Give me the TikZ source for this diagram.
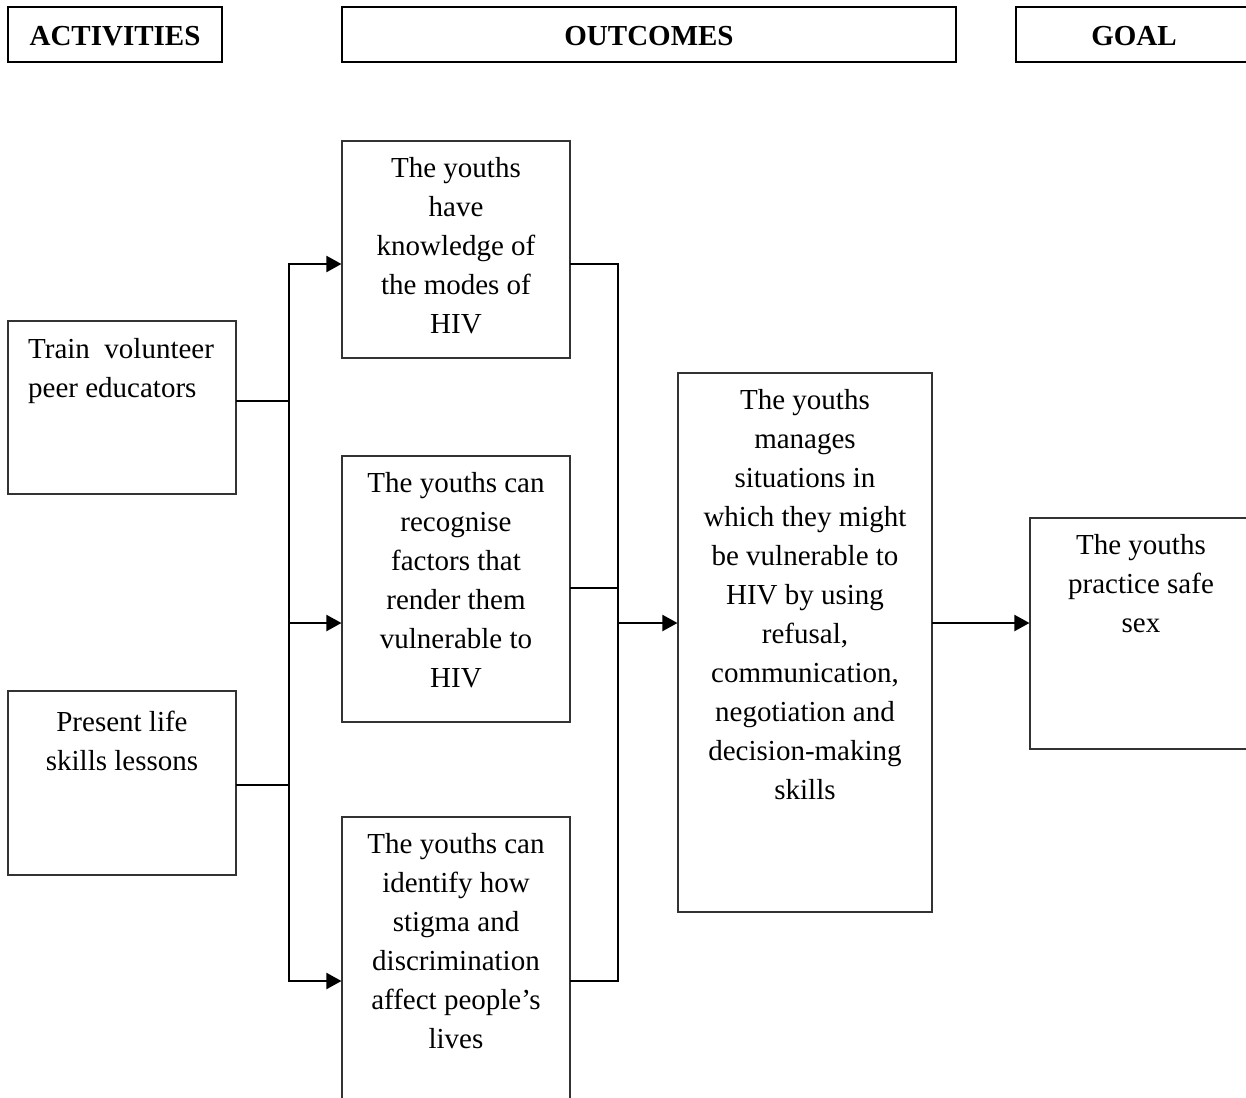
\documentclass[tikz,border=0pt]{standalone}
\usepackage{fontspec}
\setmainfont{Liberation Serif}
\usetikzlibrary{arrows.meta}

\newcommand{\bodysize}{\fontsize{29pt}{39pt}\selectfont}

\tikzset{
  header/.style={draw=black, line width=1.8pt, inner sep=0pt, font=\bodysize\bfseries,
                 text height=23pt, text depth=0pt},
  frame/.style={draw=black!80, line width=1.1pt, inner sep=0pt},
  label/.style={inner sep=0pt, anchor=north, align=center},
  link/.style={draw=black, line width=2pt, line cap=rect},
  flow/.style={link, -{Triangle[length=15pt,width=16pt]}},
}

\begin{document}
\begin{tikzpicture}[x=1pt, y=-1pt, font=\bodysize]
  \useasboundingbox (0,0) rectangle (1246,1097);
  \clip (0,0) rectangle (1246,1097);

  % column headings
  \node[header, minimum width=214pt, minimum height=55pt] (hact) at (115,34.5) {ACTIVITIES};
  \node[header, minimum width=614pt, minimum height=55pt] (hout) at (649,34.5) {OUTCOMES};
  \node[header, minimum width=236pt, minimum height=55pt] (hgoal) at (1134,34.5) {GOAL};

  % activity boxes
  \node[frame, minimum width=228pt, minimum height=173pt] (train) at (122,407.5) {};
  \node[label, align=left, anchor=north west] (traintxt) at (28,331) {\strut Train\ \ volunteer\\peer educators};

  \node[frame, minimum width=228pt, minimum height=184pt] (present) at (122,783) {};
  \node[label] (presenttxt) at (present.north) [yshift=-14pt] {\strut Present life\\skills lessons};

  % outcome boxes
  \node[frame, minimum width=228pt, minimum height=217pt] (know) at (456,249.5) {};
  \node[label] (knowtxt) at (know.north) [yshift=-10pt] {\strut The youths\\have\\knowledge of\\the modes of\\HIV};

  \node[frame, minimum width=228pt, minimum height=266pt] (recog) at (456,589) {};
  \node[label] (recogtxt) at (recog.north) [yshift=-10pt] {\strut The youths can\\recognise\\factors that\\render them\\vulnerable to\\HIV};

  \node[frame, minimum width=228pt, minimum height=300pt] (stigma) at (456,967) {};
  \node[label] (stigmatxt) at (stigma.north) [yshift=-10pt] {\strut The youths can\\identify how\\stigma and\\discrimination\\affect people’s\\lives};

  % combined outcome
  \node[frame, minimum width=254pt, minimum height=539pt] (manage) at (805,642.5) {};
  \node[label] (managetxt) at (manage.north) [yshift=-10pt] {\strut The youths\\manages\\situations in\\which they might\\be vulnerable to\\HIV by using\\refusal,\\communication,\\negotiation and\\decision-making\\skills};

  % goal
  \node[frame, minimum width=222pt, minimum height=231pt] (safe) at (1141,633.5) {};
  \node[label] (safetxt) at (safe.north) [yshift=-10pt] {\strut The youths\\practice safe\\sex};

  % junction points
  \coordinate (jl) at (289,0);
  \coordinate (jr) at (618,0);

  % activities feed the outcomes
  \draw[link] (train.east |- 0,401) -- (jl |- 0,401);
  \draw[link] (present.east |- 0,785) -- (jl |- 0,785);
  \draw[link] (jl |- 0,264) -- (jl |- 0,981);
  \draw[flow] (jl |- 0,264) -- (know.west |- 0,264);
  \draw[flow] (jl |- 0,623) -- (recog.west |- 0,623);
  \draw[flow] (jl |- 0,981) -- (stigma.west |- 0,981);

  % outcomes combine
  \draw[link] (know.east |- 0,264) -- (jr |- 0,264);
  \draw[link] (recog.east |- 0,588) -- (jr |- 0,588);
  \draw[link] (stigma.east |- 0,981) -- (jr |- 0,981);
  \draw[link] (jr |- 0,264) -- (jr |- 0,981);
  \draw[flow] (jr |- 0,623) -- (manage.west |- 0,623);

  % towards the goal
  \draw[flow] (manage.east |- 0,623) -- (safe.west |- 0,623);
\end{tikzpicture}
\end{document}
